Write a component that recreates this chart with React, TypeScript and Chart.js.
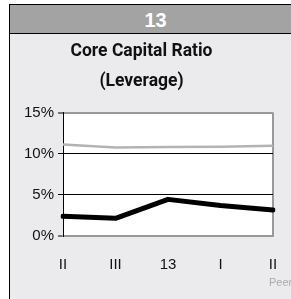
import React, { useEffect, useRef } from "react";
import { Chart, registerables } from "chart.js";

Chart.register(...registerables);

const categories = ["II", "III", "13", "I", "II"];
const peerValues = [11.1, 10.75, 10.8, 10.85, 10.95];
const bankValues = [2.4, 2.15, 4.45, 3.7, 3.15];
const yTicks = [0, 5, 10, 15];
const headerText = "13";
const titleLines = ["Core Capital Ratio", "(Leverage)"];
const sourceText = "Peer Group";

const FONT = "'Liberation Sans', Arial, sans-serif";
const TITLE_FONT = "Roboto, 'Liberation Sans', Arial, sans-serif";

export default function App() {
  const ref = useRef<HTMLCanvasElement | null>(null);

  useEffect(() => {
    if (!ref.current) return;
    const bgPlugin = {
      id: "plotBg",
      beforeDraw(chart: any) {
        const { ctx, chartArea } = chart;
        ctx.save();
        ctx.fillStyle = "#ffffff";
        ctx.fillRect(chartArea.left, chartArea.top, chartArea.right - chartArea.left, chartArea.bottom - chartArea.top);
        ctx.restore();
      },
    };
    const chart = new Chart(ref.current, {
      type: "line",
      data: {
        labels: categories,
        datasets: [
          {
            label: "Peer",
            data: peerValues,
            borderColor: "#b3b3b3",
            borderWidth: 2.5,
            pointRadius: 0,
            tension: 0,
            fill: false,
          },
          {
            label: "Bank",
            data: bankValues,
            borderColor: "#000000",
            borderWidth: 5,
            borderCapStyle: "round",
            borderJoinStyle: "round",
            pointRadius: 0,
            tension: 0,
            fill: false,
          },
        ],
      },
      options: {
        responsive: false,
        animation: false,
        devicePixelRatio: 1,
        layout: { padding: { left: 0, right: 28, top: 0, bottom: 5 } },
        plugins: {
          legend: { display: false },
          tooltip: { enabled: false },
          title: {
            display: true,
            text: titleLines,
            color: "#111111",
            font: { family: TITLE_FONT, size: 17.5, weight: "bold", lineHeight: 1.7 },
            padding: { top: 3, bottom: 16 },
          },
        },
        scales: {
          x: {
            type: "category",
            offset: false,
            border: { display: true, color: "#999999", width: 2 },
            grid: {
              drawTicks: false,
              color: (c: any) => (c.index === categories.length - 1 ? "#999999" : "rgba(0,0,0,0)"),
              lineWidth: 2,
            },
            ticks: {
              color: "#111111",
              font: { family: FONT, size: 15 },
              padding: 20,
              maxRotation: 0,
            },
          },
          y: {
            min: 0,
            max: 15,
            afterBuildTicks: (s: any) => {
              s.ticks = yTicks.map((v) => ({ value: v }));
            },
            afterFit: (s: any) => {
              s.width = 53;
            },
            border: { display: true, color: "#000000", width: 1 },
            grid: {
              drawTicks: true,
              tickLength: 5,
              tickColor: "#000000",
              tickWidth: 1,
              color: (c: any) => (c.tick && (c.tick.value === 0 || c.tick.value === 15) ? "#999999" : "#000000"),
              lineWidth: (c: any) => (c.tick && (c.tick.value === 0 || c.tick.value === 15) ? 2 : 1),
            },
            ticks: {
              color: "#111111",
              font: { family: FONT, size: 15 },
              padding: 4,
              callback: (v: any) => v + "%",
            },
          },
        },
      },
      plugins: [bgPlugin],
    });
    return () => chart.destroy();
  }, []);

  return (
    <div style={{ position: "fixed", left: 0, top: 0, width: 291, height: 299, overflow: "hidden", background: "#ffffff" }}>
      <div
        style={{
          position: "absolute",
          left: 9,
          top: 4,
          width: 291,
          height: 310,
          background: "#ebebed",
          borderLeft: "1px solid #000",
          borderTop: "1px solid #000",
        }}
      >
        <div
          style={{
            height: 28,
            background: "#a3a3a3",
            borderBottom: "1px solid #000",
            color: "#ffffff",
            fontFamily: FONT,
            fontWeight: "bold",
            fontSize: 20,
            lineHeight: "30px",
            textAlign: "center",
          }}
        >
          {headerText}
        </div>
        <canvas ref={ref} width={291} height={265} style={{ display: "block", width: 291, height: 265 }} />
        <div
          style={{
            position: "absolute",
            left: 259,
            top: 271,
            color: "#aaaaaa",
            fontFamily: FONT,
            fontSize: 11,
            whiteSpace: "nowrap",
          }}
        >
          {sourceText}
        </div>
      </div>
    </div>
  );
}
